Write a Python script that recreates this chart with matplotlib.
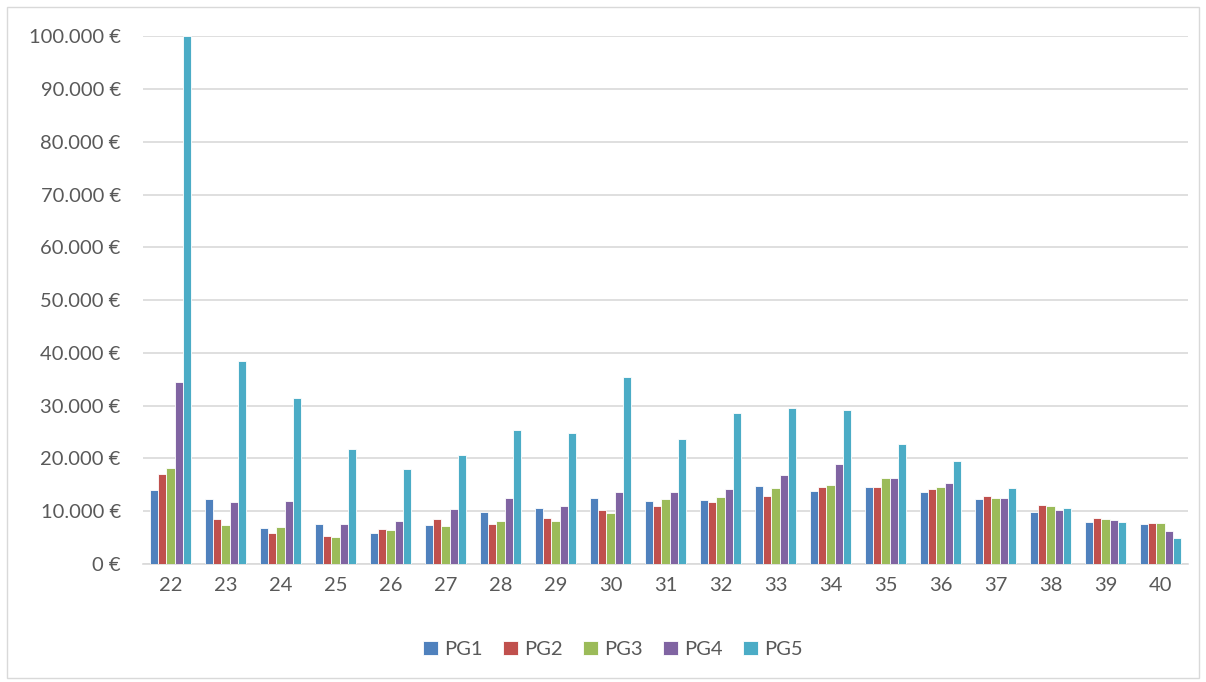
import numpy as np
import matplotlib
matplotlib.use('Agg')
from matplotlib import pyplot as plt
from matplotlib.patches import Rectangle
from matplotlib.ticker import FuncFormatter

ages = [str(a) for a in range(22, 41)]
pg1 = [14000, 12300, 6900, 7600, 5800, 7300, 9850, 10600, 12500, 11900, 12200, 14800, 13900, 14500, 13650, 12400, 9800, 7900, 7500]
pg2 = [17050, 8500, 5900, 5300, 6650, 8450, 7600, 8650, 10250, 10900, 11750, 12800, 14500, 14600, 14150, 12900, 11100, 8650, 7700]
pg3 = [18100, 7400, 7050, 5100, 6450, 7250, 8150, 8150, 9700, 12300, 12750, 14400, 14950, 16250, 14650, 12500, 10900, 8450, 7700]
pg4 = [34400, 11750, 11850, 7500, 8150, 10400, 12450, 11000, 13650, 13650, 14200, 16850, 18900, 16350, 15350, 12500, 10150, 8250, 6200]
pg5 = [100000, 38450, 31450, 21800, 18000, 20650, 25450, 24750, 35350, 23750, 28550, 29600, 29200, 22650, 19600, 14400, 10550, 7900, 4850]

series = {'PG1': pg1, 'PG2': pg2, 'PG3': pg3, 'PG4': pg4, 'PG5': pg5}
colors = ['#4F81BD', '#C0504D', '#9BBB59', '#8064A2', '#4BACC6']

plt.rcParams['font.family'] = ['Lato', 'DejaVu Sans']

fig = plt.figure(figsize=(12.06, 6.82), dpi=100)
ax = fig.add_axes([0.1186, 0.173, 0.8664, 0.774])

index = np.arange(len(ages))
width = 0.15
for i, (name, vals) in enumerate(series.items()):
    ax.bar(index + (i - 2) * width, vals, width, color=colors[i],
           edgecolor='white', linewidth=0.6, label=name, zorder=3)

ax.set_xlim(-0.5, len(ages) - 0.5)
ax.set_ylim(0, 100000)
ax.set_yticks(np.arange(0, 100001, 10000))
ax.yaxis.set_major_formatter(FuncFormatter(
    lambda v, p: '{:,.0f} €'.format(v).replace(',', '.')))
ax.set_xticks(index)
ax.set_xticklabels(ages)
ax.grid(axis='y', color='#D9D9D9', linewidth=1.2, zorder=0)
ax.tick_params(length=0, labelsize=14.5, colors='#595959', pad=9)
ax.tick_params(axis='y', pad=16)
for s in ['top', 'right', 'left']:
    ax.spines[s].set_visible(False)
ax.spines['bottom'].set_color('#D9D9D9')
ax.spines['bottom'].set_linewidth(1.2)

leg = fig.legend(loc='center', bbox_to_anchor=(0.508, 0.048), ncol=5, frameon=False,
                 fontsize=14.5, handlelength=0.75, handleheight=0.75,
                 handletextpad=0.3, columnspacing=1.0)
for t in leg.get_texts():
    t.set_color('#595959')

fig.patches.append(Rectangle((0.006, 0.006), 0.988, 0.984, transform=fig.transFigure,
                             fill=False, edgecolor='#D9D9D9', linewidth=1))

plt.savefig('out.png', dpi=100)
